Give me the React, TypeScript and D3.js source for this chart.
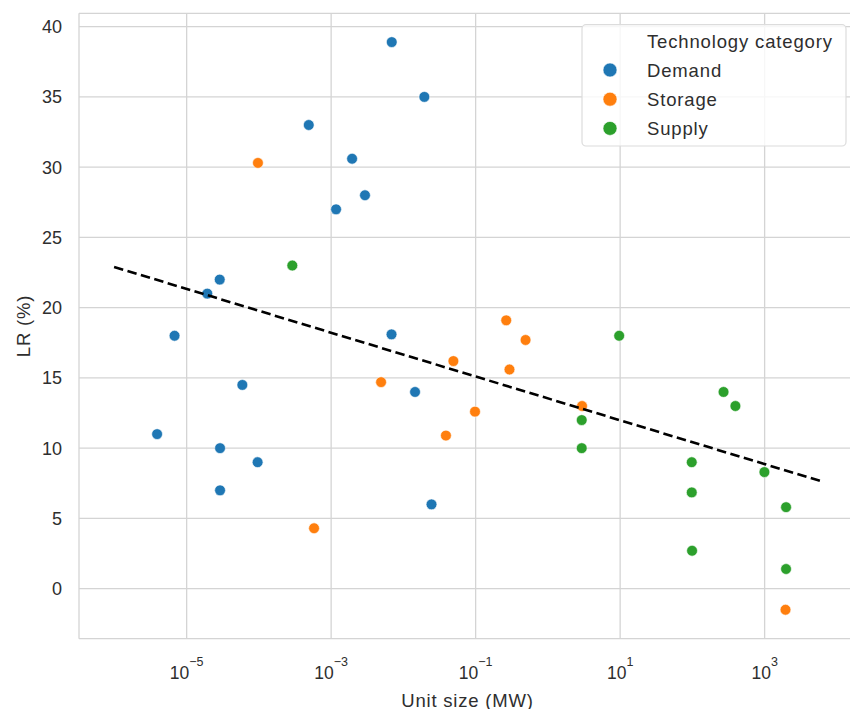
import * as d3 from "d3";

// series values (x = unit size in MW, y = LR in %)
const demandX = [0.0069, 0.0195, 0.00049, 0.00195, 0.00294, 0.00117, 2.87e-5, 1.93e-5, 6.8e-6, 0.00685, 5.9e-5, 0.0145, 3.9e-6, 2.9e-5, 9.6e-5, 2.9e-5, 0.0245];
const demandY = [38.9, 35.0, 33.0, 30.6, 28.0, 27.0, 22.0, 21.0, 18.0, 18.1, 14.5, 14.0, 11.0, 10.0, 9.0, 7.0, 6.0];

const storageX = [9.7e-5, 0.265, 0.491, 0.0492, 0.294, 0.00491, 0.098, 2.97, 0.0388, 0.00058, 1945];
const storageY = [30.3, 19.1, 17.7, 16.2, 15.6, 14.7, 12.6, 13.0, 10.9, 4.3, -1.5];

const supplyX = [0.00029, 9.7, 270, 394, 2.94, 2.94, 98, 993, 98, 1980, 99, 1980];
const supplyY = [23.0, 18.0, 14.0, 13.0, 12.0, 10.0, 9.0, 8.3, 6.85, 5.8, 2.7, 1.4];

// fitted trend line end points
const trendX = [9.9e-7, 5860];
const trendY = [22.9, 7.67];

const categories = ["Demand", "Storage", "Supply"];
const colors = ["#1f77b4", "#ff7f0e", "#2ca02c"];
const legendTitle = "Technology category";

const xTicks = [1e-5, 1e-3, 1e-1, 1e1, 1e3];
const yTicks = [0, 5, 10, 15, 20, 25, 30, 35, 40];

const W = 850;
const H = 709;
const left = 79;
const right = 860;
const top = 13.3;
const bottom = 638.7;

const font = "'Liberation Sans', Arial, sans-serif";
const textColor = "#2e2e2e";
const gridColor = "#d4d4d4";

export default function App() {
  const x = d3.scaleLog().domain([Math.pow(10, -6.49), Math.pow(10, 4.32)]).range([left, right]);
  const y = d3.scaleLinear().domain([-3.56, 40.95]).range([bottom, top]);

  const series = [
    { xs: demandX, ys: demandY },
    { xs: storageX, ys: storageY },
    { xs: supplyX, ys: supplyY },
  ];

  const trend = d3
    .line<number>()
    .x((d) => x(d))
    .y((_, i) => y(trendY[i]))(trendX);

  const legX = 582;
  const legY = 24.7;

  return (
    <svg
      width={W}
      height={H}
      style={{ position: "absolute", left: 0, top: 0, background: "#fff" }}
      fontFamily={font}
    >
      {/* grid */}
      {yTicks.map((t) => (
        <line key={"gy" + t} x1={left} x2={W} y1={y(t)} y2={y(t)} stroke={gridColor} strokeWidth={1.3} />
      ))}
      {xTicks.map((t) => (
        <line key={"gx" + t} x1={x(t)} x2={x(t)} y1={top} y2={bottom} stroke={gridColor} strokeWidth={1.3} />
      ))}
      {/* spines */}
      <line x1={left} x2={W} y1={top} y2={top} stroke={gridColor} strokeWidth={1.3} />
      <line x1={left} x2={W} y1={bottom} y2={bottom} stroke={gridColor} strokeWidth={1.3} />
      <line x1={left} x2={left} y1={top} y2={bottom} stroke={gridColor} strokeWidth={1.3} />

      {/* y tick labels */}
      {yTicks.map((t) => (
        <text key={"ty" + t} x={62} y={y(t) + 6.5} textAnchor="end" fontSize={18} fill={textColor}>
          {t}
        </text>
      ))}
      {/* x tick labels */}
      {xTicks.map((t) => (
        <text key={"tx" + t} x={x(t)} y={678.7} textAnchor="middle" fontSize={17.5} fill={textColor}>
          <tspan>10</tspan>
          <tspan dy={-12.5} fontSize={12.5}>
            {(Math.log10(t) < 0 ? "\u2212" : "") + Math.abs(Math.round(Math.log10(t)))}
          </tspan>
        </text>
      ))}

      {/* axis labels */}
      <text x={(left + 850) / 2 + 3} y={706.5} textAnchor="middle" fontSize={18.5} letterSpacing={0.8} fill={textColor}>
        Unit size (MW)
      </text>
      <text
        transform={`translate(29.5,${(top + bottom) / 2}) rotate(-90)`}
        textAnchor="middle"
        fontSize={18.5}
        letterSpacing={0.8}
        fill={textColor}
      >
        LR (%)
      </text>

      {/* points */}
      {series.map((s, si) =>
        s.xs.map((v, i) => (
          <circle
            key={si + "-" + i}
            cx={x(v)}
            cy={y(s.ys[i])}
            r={5.4}
            fill={colors[si]}
            stroke="#fff"
            strokeWidth={0.6}
          />
        ))
      )}

      {/* trend line */}
      <path d={trend || ""} fill="none" stroke="#000" strokeWidth={2.6} strokeDasharray="9.5,4.5" />

      {/* legend */}
      <rect
        x={legX}
        y={legY}
        width={264}
        height={121.3}
        rx={4}
        fill="#fff"
        fillOpacity={0.8}
        stroke="#dcdcdc"
        strokeWidth={1.2}
      />
      <text x={647} y={47.7} fontSize={18.5} letterSpacing={0.85} fill={textColor}>
        {legendTitle}
      </text>
      {categories.map((c, i) => (
        <g key={c}>
          <circle cx={610} cy={70 + i * 29.2} r={7} fill={colors[i]} stroke="#fff" strokeWidth={0.6} />
          <text x={647} y={76.5 + i * 29.2} fontSize={18.5} letterSpacing={0.85} fill={textColor}>
            {c}
          </text>
        </g>
      ))}
    </svg>
  );
}
